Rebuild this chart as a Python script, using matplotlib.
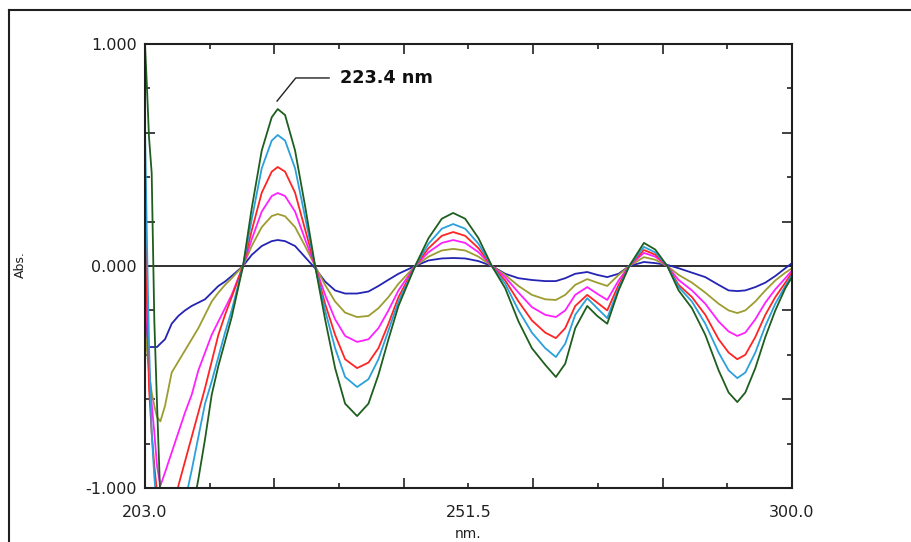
import matplotlib
matplotlib.use("Agg")
import matplotlib.pyplot as plt
from matplotlib.lines import Line2D

# wavelength grid (nm) shared by all six derivative spectra
wavelength = [
    203.0, 203.3, 203.6, 204.0, 204.4, 204.8, 205.3, 206.0, 207.0, 208.0,
    209.0, 210.0, 211.0, 212.0, 213.0, 214.0, 215.0, 216.0, 217.7, 219.0,
    220.5, 222.0, 222.9, 224.0, 225.5, 227.0, 228.5, 230.0, 231.5, 233.0,
    234.8, 236.5, 238.0, 239.5, 241.0, 243.5, 245.5, 247.5, 249.2, 251.0,
    253.0, 255.0, 257.0, 259.0, 261.0, 263.0, 264.6, 266.0, 267.5, 269.3,
    270.8, 272.3, 274.0, 275.6, 277.8, 279.5, 281.3, 283.0, 285.0, 287.0,
    289.0, 290.5, 291.8, 293.0, 294.5, 296.0, 297.5, 299.0, 300.0,
]

abs_green = [
    1.00, 0.80, 0.58, 0.42, -0.25, -0.62, -1.05, -1.30, -1.40, -1.35,
    -1.25, -1.12, -0.96, -0.78, -0.58, -0.45, -0.34, -0.23, 0.00, 0.26,
    0.52, 0.67, 0.707, 0.68, 0.52, 0.27, 0.00, -0.24, -0.46, -0.62,
    -0.676, -0.62, -0.49, -0.33, -0.18, 0.00, 0.125, 0.213, 0.239, 0.213,
    0.125, 0.00, -0.10, -0.25, -0.37, -0.445, -0.50, -0.44, -0.28, -0.18,
    -0.225, -0.26, -0.11, 0.00, 0.104, 0.074, 0.00, -0.11, -0.19, -0.31,
    -0.47, -0.57, -0.613, -0.57, -0.46, -0.32, -0.20, -0.10, -0.05,
]
abs_cyan = [
    0.617, 0.10, -0.35, -0.75, -0.95, -1.10, -1.30, -1.42, -1.40, -1.30,
    -1.06, -0.92, -0.77, -0.62, -0.52, -0.41, -0.30, -0.20, 0.00, 0.21,
    0.44, 0.565, 0.59, 0.565, 0.44, 0.22, 0.00, -0.20, -0.37, -0.50,
    -0.545, -0.51, -0.42, -0.29, -0.16, 0.00, 0.10, 0.168, 0.189, 0.168,
    0.10, 0.00, -0.08, -0.20, -0.30, -0.37, -0.41, -0.35, -0.22, -0.145,
    -0.19, -0.235, -0.10, 0.00, 0.086, 0.061, 0.00, -0.095, -0.16, -0.26,
    -0.39, -0.47, -0.505, -0.48, -0.39, -0.27, -0.17, -0.09, -0.04,
]
abs_red = [
    0.30, -0.15, -0.55, -0.75, -0.90, -1.02, -1.20, -1.30, -1.20, -0.99,
    -0.88, -0.77, -0.66, -0.55, -0.43, -0.31, -0.22, -0.14, 0.00, 0.16,
    0.33, 0.425, 0.446, 0.425, 0.33, 0.165, 0.00, -0.17, -0.31, -0.42,
    -0.46, -0.435, -0.37, -0.26, -0.14, 0.00, 0.08, 0.136, 0.153, 0.136,
    0.08, 0.00, -0.065, -0.16, -0.245, -0.30, -0.325, -0.28, -0.18, -0.13,
    -0.165, -0.20, -0.085, 0.00, 0.072, 0.051, 0.00, -0.085, -0.14, -0.22,
    -0.33, -0.39, -0.42, -0.40, -0.32, -0.22, -0.14, -0.075, -0.03,
]
abs_magenta = [
    -0.06, -0.25, -0.45, -0.62, -0.75, -0.90, -0.99, -0.93, -0.84, -0.75,
    -0.66, -0.58, -0.47, -0.39, -0.31, -0.25, -0.19, -0.13, 0.00, 0.12,
    0.245, 0.315, 0.329, 0.315, 0.245, 0.12, 0.00, -0.13, -0.24, -0.315,
    -0.342, -0.33, -0.28, -0.20, -0.11, 0.00, 0.062, 0.104, 0.117, 0.104,
    0.062, 0.00, -0.05, -0.12, -0.185, -0.22, -0.23, -0.20, -0.13, -0.095,
    -0.125, -0.153, -0.065, 0.00, 0.059, 0.042, 0.00, -0.063, -0.11, -0.17,
    -0.25, -0.295, -0.315, -0.30, -0.24, -0.165, -0.105, -0.055, -0.02,
]
abs_olive = [
    -0.27, -0.38, -0.48, -0.57, -0.63, -0.68, -0.70, -0.63, -0.48, -0.43,
    -0.38, -0.33, -0.28, -0.22, -0.16, -0.12, -0.085, -0.055, 0.00, 0.09,
    0.175, 0.225, 0.234, 0.224, 0.175, 0.09, 0.00, -0.085, -0.16, -0.21,
    -0.23, -0.225, -0.19, -0.14, -0.08, 0.00, 0.042, 0.07, 0.077, 0.07,
    0.042, 0.00, -0.04, -0.09, -0.13, -0.15, -0.153, -0.13, -0.085, -0.059,
    -0.075, -0.09, -0.04, 0.00, 0.04, 0.028, 0.00, -0.04, -0.075, -0.12,
    -0.17, -0.20, -0.212, -0.20, -0.16, -0.11, -0.065, -0.03, -0.01,
]
abs_blue = [
    -0.15, -0.36, -0.365, -0.365, -0.365, -0.365, -0.35, -0.33, -0.26, -0.225,
    -0.20, -0.18, -0.165, -0.15, -0.12, -0.09, -0.07, -0.045, 0.00, 0.05,
    0.09, 0.112, 0.117, 0.112, 0.09, 0.04, -0.01, -0.07, -0.11, -0.124,
    -0.124, -0.115, -0.09, -0.062, -0.035, 0.00, 0.025, 0.034, 0.036, 0.034,
    0.022, 0.00, -0.035, -0.055, -0.063, -0.068, -0.068, -0.055, -0.035, -0.027,
    -0.04, -0.05, -0.035, 0.00, 0.018, 0.013, 0.005, -0.01, -0.03, -0.05,
    -0.085, -0.11, -0.113, -0.11, -0.095, -0.075, -0.045, -0.01, 0.013,
]

series = [
    (abs_blue, "#2424b4"),
    (abs_olive, "#9c9c30"),
    (abs_magenta, "#ff20ff"),
    (abs_red, "#ff2424"),
    (abs_cyan, "#2aa0dc"),
    (abs_green, "#1e5e1e"),
]

x_major = [203.0, 222.4, 241.8, 261.2, 280.6, 300.0]
x_major_labels = ["203.0", "", "", "", "", "300.0"]
x_minor = [212.7, 232.1, 251.5, 270.9, 290.3]
x_minor_labels = ["", "", "251.5", "", ""]
y_major = [-1.0, -0.6, -0.2, 0.2, 0.6, 1.0]
y_major_labels = ["-1.000", "", "", "", "", "1.000"]
y_minor = [-0.8, -0.4, 0.0, 0.4, 0.8]
y_minor_labels = ["", "", "0.000", "", ""]

peak_nm = 222.9
peak_text = "223.4 nm"

fig = plt.figure(figsize=(9.12, 5.42), dpi=100)
ax = fig.add_axes([145 / 912, 1 - 488 / 542, (792 - 145) / 912, (488 - 44) / 542])

ax.axhline(0, color="#303030", lw=1.4, zorder=1)
for values, color in series:
    ax.plot(wavelength, values, color=color, lw=1.3, zorder=2)

ax.set_xlim(203.0, 300.0)
ax.set_ylim(-1.0, 1.0)

ax.set_xticks(x_major)
ax.set_xticklabels(x_major_labels)
ax.set_xticks(x_minor, minor=True)
ax.set_xticklabels(x_minor_labels, minor=True)
ax.set_yticks(y_major)
ax.set_yticklabels(y_major_labels)
ax.set_yticks(y_minor, minor=True)
ax.set_yticklabels(y_minor_labels, minor=True)

ax.tick_params(which="both", direction="in", top=True, right=True,
               color="#202020", labelsize=11.5, labelcolor="#202020")
ax.tick_params(which="major", length=7, width=1.2)
ax.tick_params(which="minor", length=3.5, width=1.2)
ax.tick_params(axis="x", which="both", pad=12)
ax.tick_params(axis="y", which="both", pad=6)
for sp in ax.spines.values():
    sp.set_linewidth(1.5)
    sp.set_color("#202020")

ax.set_xlabel("nm.", fontsize=10, labelpad=5, color="#202020")
fig.text(20 / 912, 1 - 265 / 542, "Abs.", rotation=90, ha="center", va="center",
         fontsize=9, color="#202020")

# leader line from the main peak to the label
peak_val = max(abs_green[15:30])
lead_x = [peak_nm - 0.1, peak_nm + 2.7, peak_nm + 7.7]
lead_y = [peak_val + 0.036, peak_val + 0.14, peak_val + 0.14]
ax.plot(lead_x, lead_y, color="#202020", lw=1.0, zorder=3)
ax.text(peak_nm + 9.3, peak_val + 0.14, peak_text, fontsize=12.7, fontweight="bold",
        ha="left", va="center", color="#101010")

# outer frame (only left and top edges are inside the image)
fig.add_artist(Line2D([9 / 912, 9 / 912], [0, 1 - 10 / 542], color="#202020", lw=1.5))
fig.add_artist(Line2D([9 / 912, 1], [1 - 10 / 542, 1 - 10 / 542], color="#202020", lw=1.5))

fig.savefig("out.png", dpi=100)
